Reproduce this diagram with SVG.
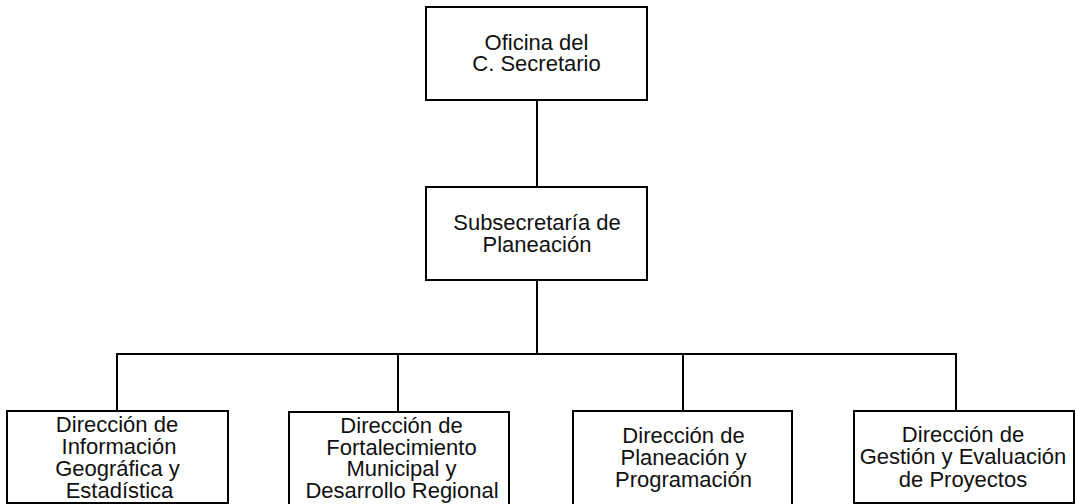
<svg xmlns="http://www.w3.org/2000/svg" width="1076" height="504" viewBox="0 0 1076 504">
<style>
.box{fill:#fff;stroke:#000;stroke-width:2}
.ln{fill:none;stroke:#000;stroke-width:2}
text{font-family:"Liberation Sans",Arial,sans-serif;font-size:22px;fill:#111;text-anchor:middle}
</style>
<rect width="1076" height="504" fill="#fff"/>
<g id="connectors">
<line class="ln" x1="537" y1="100" x2="537" y2="187"/>
<line class="ln" x1="537" y1="280" x2="537" y2="354"/>
<polyline class="ln" points="117,411 117,354 956,354 956,411"/>
<line class="ln" x1="398" y1="354" x2="398" y2="412"/>
<line class="ln" x1="683" y1="354" x2="683" y2="411"/>
</g>
<g id="n-secretario">
<rect class="box" x="426" y="7" width="221" height="93"/>
<text x="536.5" y="50">Oficina del</text>
<text x="536.5" y="71">C. Secretario</text>
</g>
<g id="n-subsecretaria">
<rect class="box" x="426" y="187" width="221" height="93"/>
<text x="537" y="230">Subsecretaría de</text>
<text x="537" y="251.5">Planeación</text>
</g>
<g id="n-informacion">
<rect class="box" x="7" y="411" width="221" height="92"/>
<text x="117" y="431.5">Dirección de</text>
<text x="119" y="453.5">Información</text>
<text x="117.5" y="476">Geográfica y</text>
<text x="119.5" y="498">Estadística</text>
</g>
<g id="n-fortalecimiento">
<rect class="box" x="289" y="412" width="220" height="100"/>
<text x="401.5" y="432.5">Dirección de</text>
<text x="401.5" y="454.5">Fortalecimiento</text>
<text x="401.5" y="476">Municipal y</text>
<text x="402" y="497.5">Desarrollo Regional</text>
</g>
<g id="n-planeacion">
<rect class="box" x="573" y="411" width="219" height="100"/>
<text x="683.5" y="442.5">Dirección de</text>
<text x="683.5" y="465">Planeación y</text>
<text x="683.5" y="486.5">Programación</text>
</g>
<g id="n-gestion">
<rect class="box" x="854" y="411" width="220" height="92"/>
<text x="963" y="441.5">Dirección de</text>
<text x="963" y="463.5">Gestión y Evaluación</text>
<text x="963" y="486.5">de Proyectos</text>
</g>
</svg>
